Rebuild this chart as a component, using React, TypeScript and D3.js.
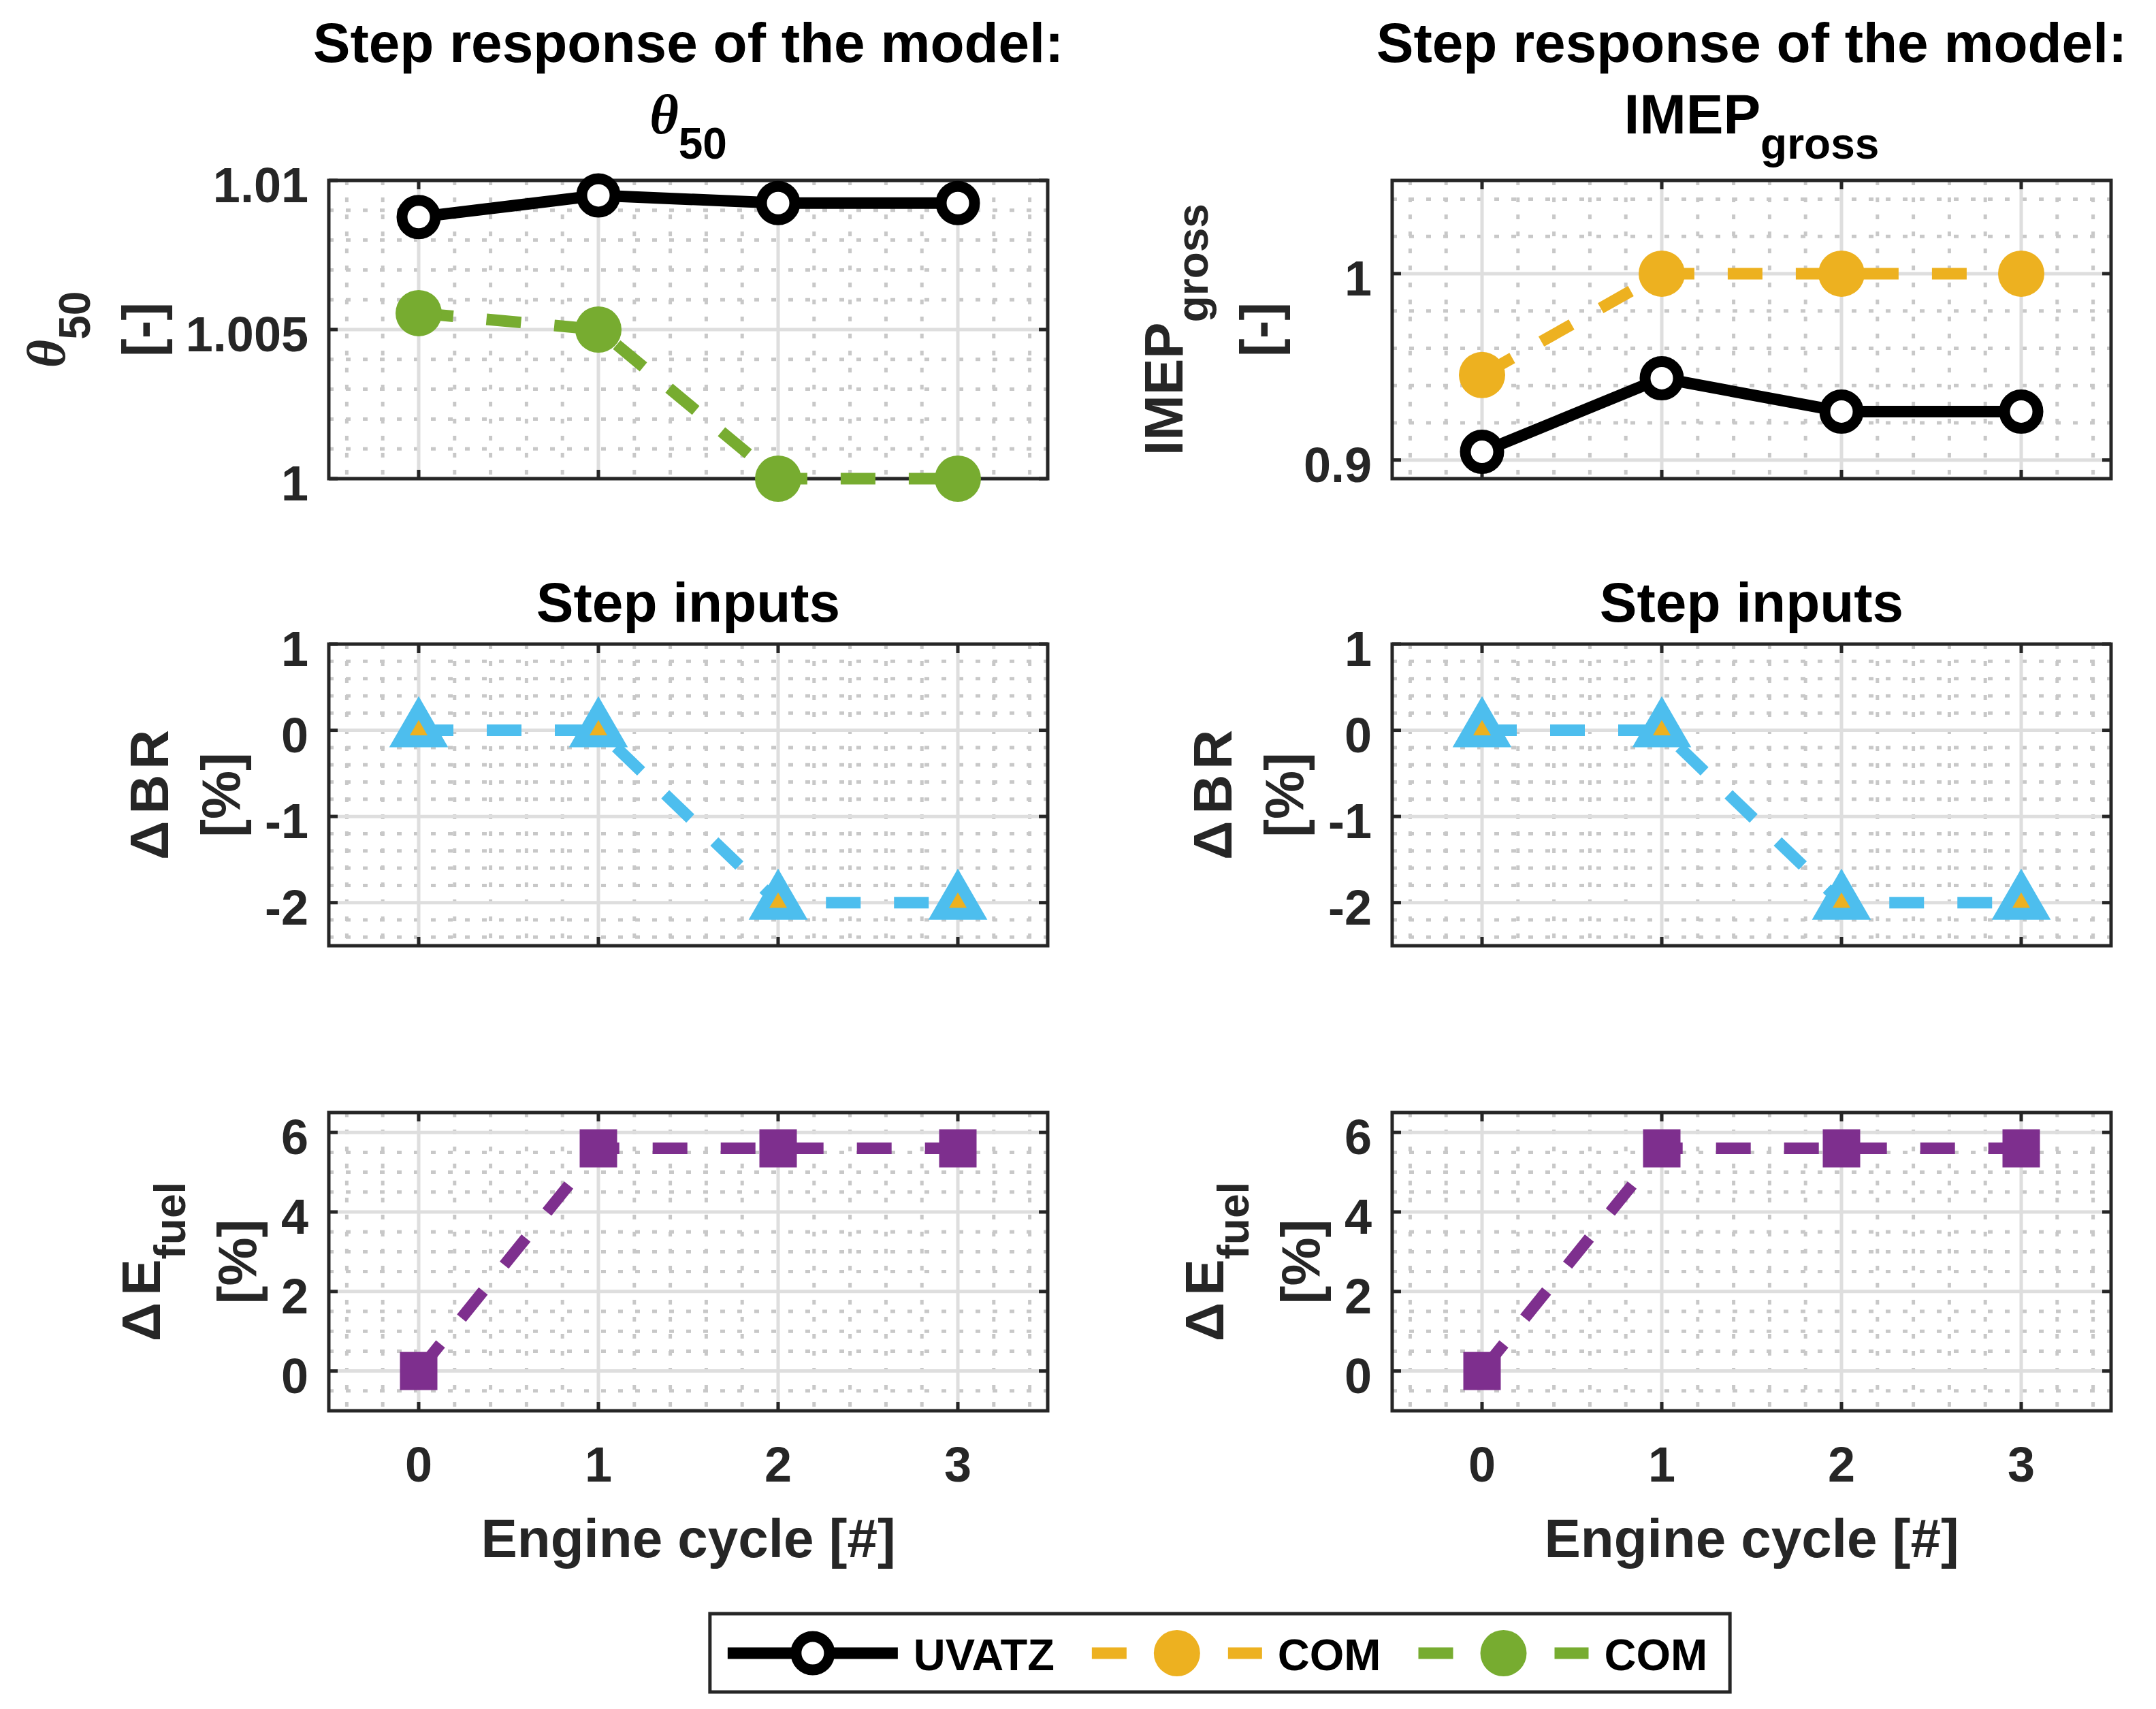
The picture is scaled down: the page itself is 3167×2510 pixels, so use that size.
import { useEffect, useRef } from 'react'
import * as d3 from 'd3'

// ---- data ----
const cycles = [0, 1, 2, 3]
const theta50Uvatz = [1.00877, 1.0095, 1.00924, 1.00924]
const theta50Com = [1.00555, 1.005, 1.0, 1.0]
const imepUvatz = [0.9044, 0.9439, 0.926, 0.926]
const imepCom = [0.9456, 1.0, 1.0, 1.0]
const deltaBR = [0, 0, -2, -2]
const deltaEfuel = [0, 5.6, 5.6, 5.6]

const xDomain: [number, number] = [-0.5, 3.5]
const xTicks = [0, 1, 2, 3]
const legendLabels = ['UVATZ', 'COM', 'COM']

// ---- figure layout ----
const W = 3167
const H = 2510
const FONT = '"Liberation Sans", Arial, Helvetica, sans-serif'
const SERIF = '"Liberation Serif", "Times New Roman", serif'
const AX = '#262626'
const MAJOR_GRID = '#dedede'
const MINOR_GRID = '#c8c8c8'
const LW = 17
const DASH = '51 49'

const colLeft = [483, 2045]
const axW = 1056
const rowTop = [265, 946, 1634]
const rowH = [438, 443, 438]

const C_BLACK = '#000000'
const C_ORANGE = '#EDB120'
const C_GREEN = '#77AC30'
const C_BLUE = '#4DBEEE'
const C_PURPLE = '#7E2F8E'

type Marker = 'openCircle' | 'circle' | 'triangle' | 'square'
interface Series { values: number[]; color: string; dashed: boolean; marker: Marker }
interface Seg { t: string; sub?: boolean; serif?: boolean; dx?: number }
interface Panel {
  col: number
  row: number
  domain: [number, number]
  ticks: number[]
  tickLabels: string[]
  minorStep: number
  series: Series[]
  title: Seg[][]
  ylabel: Seg[][]
  xlabel?: boolean
}

const panels: Panel[] = [
  {
    col: 0, row: 0, domain: [1, 1.01], ticks: [1, 1.005, 1.01], tickLabels: ['1', '1.005', '1.01'], minorStep: 0.001,
    series: [
      { values: theta50Uvatz, color: C_BLACK, dashed: false, marker: 'openCircle' },
      { values: theta50Com, color: C_GREEN, dashed: true, marker: 'circle' },
    ],
    title: [[{ t: 'Step response of the model:' }], [{ t: 'θ', serif: true }, { t: '50', sub: true }]],
    ylabel: [[{ t: 'θ', serif: true }, { t: '50', sub: true }], [{ t: '[-]' }]],
  },
  {
    col: 1, row: 0, domain: [0.89, 1.05], ticks: [0.9, 1], tickLabels: ['0.9', '1'], minorStep: 0.02,
    series: [
      { values: imepUvatz, color: C_BLACK, dashed: false, marker: 'openCircle' },
      { values: imepCom, color: C_ORANGE, dashed: true, marker: 'circle' },
    ],
    title: [[{ t: 'Step response of the model:' }], [{ t: 'IMEP' }, { t: 'gross', sub: true }]],
    ylabel: [[{ t: 'IMEP' }, { t: 'gross', sub: true }], [{ t: '[-]' }]],
  },
  ...[0, 1].map(col => ({
    col, row: 1, domain: [-2.5, 1] as [number, number], ticks: [-2, -1, 0, 1], tickLabels: ['-2', '-1', '0', '1'], minorStep: 0.2,
    series: [{ values: deltaBR, color: C_BLUE, dashed: true, marker: 'triangle' as Marker }],
    title: [[{ t: 'Step inputs' }]],
    ylabel: [[{ t: 'Δ' }, { t: 'B', dx: 10 }, { t: 'R', dx: 8 }], [{ t: '[%]' }]],
  })),
  ...[0, 1].map(col => ({
    col, row: 2, domain: [-1, 6.5] as [number, number], ticks: [0, 2, 4, 6], tickLabels: ['0', '2', '4', '6'], minorStep: 0.5,
    series: [{ values: deltaEfuel, color: C_PURPLE, dashed: true, marker: 'square' as Marker }],
    title: [],
    ylabel: [[{ t: 'Δ' }, { t: 'E', dx: 10 }, { t: 'fuel', sub: true }], [{ t: '[%]' }]],
    xlabel: true,
  })),
]

const SUB_DY = 37

function minorTicks(domain: [number, number], step: number, major: number[]) {
  const out: number[] = []
  const k0 = Math.ceil(domain[0] / step - 1e-6)
  const k1 = Math.floor(domain[1] / step + 1e-6)
  for (let k = k0; k <= k1; k++) {
    const v = k * step
    if (major.some(m => Math.abs(m - v) < step / 10)) continue
    if (Math.abs(v - domain[0]) < step / 10 || Math.abs(v - domain[1]) < step / 10) continue
    out.push(v)
  }
  return out
}

function appendRich(text: d3.Selection<SVGTextElement, unknown, null, undefined>, segs: Seg[], subSize: number) {
  segs.forEach(s => {
    const ts = text.append('tspan').text(s.t)
    if (s.serif) ts.attr('font-family', SERIF).attr('font-style', 'italic')
    if (s.sub) ts.attr('font-size', subSize).attr('dy', SUB_DY)
    if (s.dx) ts.attr('dx', s.dx)
  })
}

function drawMarker(g: d3.Selection<SVGGElement, unknown, null, undefined>, kind: Marker, cx: number, cy: number, color: string) {
  if (kind === 'openCircle') {
    g.append('circle').attr('cx', cx).attr('cy', cy).attr('r', 24.5)
      .attr('fill', '#fff').attr('stroke', color).attr('stroke-width', 16)
  } else if (kind === 'circle') {
    g.append('circle').attr('cx', cx).attr('cy', cy).attr('r', 34).attr('fill', color)
  } else if (kind === 'square') {
    g.append('rect').attr('x', cx - 27.5).attr('y', cy - 28).attr('width', 55).attr('height', 56).attr('fill', color)
  } else {
    const tri = (r: number) => {
      const hw = r * Math.sqrt(3) / 2
      return `M${cx},${cy - r}L${cx + hw},${cy + r / 2}L${cx - hw},${cy + r / 2}Z`
    }
    g.append('path').attr('d', tri(50)).attr('fill', C_BLUE)
    g.append('path').attr('d', tri(15)).attr('fill', C_ORANGE)
  }
}

type SvgSel = d3.Selection<SVGSVGElement, unknown, null, undefined>

function drawPanel(svg: SvgSel, p: Panel) {
  const x0 = colLeft[p.col]
  const y0 = rowTop[p.row]
  const h = rowH[p.row]
  const x = d3.scaleLinear().domain(xDomain).range([x0, x0 + axW])
  const y = d3.scaleLinear().domain(p.domain).range([y0 + h, y0])
  const g = svg.append('g')

  // minor grid (dotted)
  const xMinor = minorTicks(xDomain, 0.2, xTicks)
  const yMinor = minorTicks(p.domain, p.minorStep, p.ticks)
  g.selectAll('.xminor').data(xMinor).enter().append('line')
    .attr('x1', d => x(d)).attr('x2', d => x(d))
    .attr('y1', y0).attr('y2', y0 + h)
    .attr('stroke', MINOR_GRID).attr('stroke-width', 5).attr('stroke-dasharray', '7 18')
  g.selectAll('.yminor').data(yMinor).enter().append('line')
    .attr('x1', x0).attr('x2', x0 + axW)
    .attr('y1', d => y(d)).attr('y2', d => y(d))
    .attr('stroke', MINOR_GRID).attr('stroke-width', 5).attr('stroke-dasharray', '7 18')

  // major grid
  g.selectAll('.xgrid').data(xTicks).enter().append('line')
    .attr('x1', d => x(d)).attr('x2', d => x(d))
    .attr('y1', y0).attr('y2', y0 + h)
    .attr('stroke', MAJOR_GRID).attr('stroke-width', 5)
  g.selectAll('.ygrid').data(p.ticks).enter().append('line')
    .attr('x1', x0).attr('x2', x0 + axW)
    .attr('y1', d => y(d)).attr('y2', d => y(d))
    .attr('stroke', MAJOR_GRID).attr('stroke-width', 5)

  // box and inward ticks on all four sides
  g.append('rect').attr('x', x0).attr('y', y0).attr('width', axW).attr('height', h)
    .attr('fill', 'none').attr('stroke', AX).attr('stroke-width', 5)
  const tl = 13
  xTicks.forEach(t => {
    g.append('line').attr('x1', x(t)).attr('x2', x(t)).attr('y1', y0 + h).attr('y2', y0 + h - tl)
      .attr('stroke', AX).attr('stroke-width', 5)
    g.append('line').attr('x1', x(t)).attr('x2', x(t)).attr('y1', y0).attr('y2', y0 + tl)
      .attr('stroke', AX).attr('stroke-width', 5)
  })
  p.ticks.forEach(t => {
    g.append('line').attr('x1', x0).attr('x2', x0 + tl).attr('y1', y(t)).attr('y2', y(t))
      .attr('stroke', AX).attr('stroke-width', 5)
    g.append('line').attr('x1', x0 + axW).attr('x2', x0 + axW - tl).attr('y1', y(t)).attr('y2', y(t))
      .attr('stroke', AX).attr('stroke-width', 5)
  })

  // tick labels
  const yLab = g.append('g')
  yLab.selectAll('text').data(p.ticks).enter().append('text')
    .attr('x', x0 - 30).attr('y', d => y(d) + 32)
    .attr('text-anchor', 'end')
    .style('font-family', FONT).style('font-weight', 'bold').style('font-size', '72px')
    .attr('fill', AX)
    .text((d, i) => p.tickLabels[i])

  if (p.xlabel) {
    g.selectAll('.xlab').data(xTicks).enter().append('text')
      .attr('x', d => x(d)).attr('y', y0 + h + 104)
      .attr('text-anchor', 'middle')
      .style('font-family', FONT).style('font-weight', 'bold').style('font-size', '72px')
      .attr('fill', AX)
      .text(d => String(d))
    g.append('text')
      .attr('x', x0 + axW / 2).attr('y', y0 + h + 215)
      .attr('text-anchor', 'middle')
      .style('font-family', FONT).style('font-weight', 'bold').style('font-size', '80px')
      .attr('fill', AX)
      .text('Engine cycle [#]')
  }

  // title
  const nT = p.title.length
  p.title.forEach((line, i) => {
    const last = i === nT - 1
    const hasSub = p.title[nT - 1].some(s => s.sub)
    const baseLast = hasSub ? y0 - 69 : y0 - 33
    const t = g.append('text')
      .attr('x', x0 + axW / 2).attr('y', last ? baseLast : baseLast - 105 * (nT - 1 - i))
      .attr('text-anchor', 'middle')
      .style('font-family', FONT).style('font-weight', 'bold').style('font-size', '82px')
      .attr('fill', '#000')
    appendRich(t, line, 64)
  })

  // y label (two rotated lines), placed left of the tick labels
  let minX = x0 - 200
  try {
    const bb = (yLab.node() as SVGGElement).getBBox()
    minX = bb.x
  } catch (e) { /* keep fallback */ }
  const cy = y0 + h / 2
  const nL = p.ylabel.length
  let base = minX - 37
  for (let i = nL - 1; i >= 0; i--) {
    const t = g.append('text')
      .attr('transform', `translate(${base},${cy}) rotate(-90)`)
      .attr('text-anchor', 'middle')
      .style('font-family', FONT).style('font-weight', 'bold').style('font-size', '80px')
      .attr('fill', AX)
    appendRich(t, p.ylabel[i], 64)
    if (i > 0) base -= p.ylabel[i - 1].some(s => s.sub) ? 141 : 105
  }

  // data lines and markers (drawn over the box, no clipping)
  const line = d3.line<number>().x((d, i) => x(cycles[i])).y(d => y(d))
  p.series.forEach(s => {
    g.append('path').datum(s.values).attr('d', line)
      .attr('fill', 'none').attr('stroke', s.color).attr('stroke-width', LW)
      .attr('stroke-linejoin', 'round')
      .attr('stroke-dasharray', s.dashed ? DASH : null)
  })
  p.series.forEach(s => {
    const mg = g.append('g')
    s.values.forEach((v, i) => drawMarker(mg, s.marker, x(cycles[i]), y(v), s.color))
  })
}

function drawLegend(svg: SvgSel) {
  const items: { label: string; color: string; dashed: boolean; marker: Marker }[] = [
    { label: legendLabels[0], color: C_BLACK, dashed: false, marker: 'openCircle' },
    { label: legendLabels[1], color: C_ORANGE, dashed: true, marker: 'circle' },
    { label: legendLabels[2], color: C_GREEN, dashed: true, marker: 'circle' },
  ]
  const cy = 2428
  const lineLen = 250
  const padL = 26
  const padR = 33
  const gapText = 23
  const gapItem = 55
  const g = svg.append('g')
  const box = g.append('rect')
  const content = g.append('g')
  let cx = padL
  items.forEach((it, i) => {
    content.append('line').attr('x1', cx).attr('x2', cx + lineLen).attr('y1', cy).attr('y2', cy)
      .attr('stroke', it.color).attr('stroke-width', LW)
      .attr('stroke-dasharray', it.dashed ? DASH : null)
    drawMarker(content as any, it.marker, cx + lineLen / 2, cy, it.color)
    const t = content.append('text')
      .attr('x', cx + lineLen + gapText).attr('y', cy + 25)
      .style('font-family', FONT).style('font-weight', 'bold').style('font-size', '65px')
      .attr('fill', '#000').text(it.label)
    let tw = it.label.length * 45
    try { tw = (t.node() as SVGTextElement).getComputedTextLength() } catch (e) { /* fallback */ }
    cx += lineLen + gapText + tw + (i < items.length - 1 ? gapItem : 0)
  })
  const total = cx + padR
  const left = (colLeft[0] + colLeft[1] + axW) / 2 - total / 2
  content.attr('transform', `translate(${left},0)`)
  box.attr('x', left).attr('y', 2370).attr('width', total).attr('height', 115)
    .attr('fill', '#fff').attr('stroke', AX).attr('stroke-width', 5)
}

export default function App() {
  const svgRef = useRef<SVGSVGElement>(null)

  useEffect(() => {
    if (!svgRef.current) return
    document.body.style.margin = '0'
    const svg = d3.select(svgRef.current)
    svg.selectAll('*').remove()
    svg.append('rect').attr('width', W).attr('height', H).attr('fill', '#fff')
    panels.forEach(p => drawPanel(svg, p))
    drawLegend(svg)
  }, [])

  return (
    <svg
      ref={svgRef}
      width={W}
      height={H}
      style={{ position: 'absolute', left: 0, top: 0, display: 'block' }}
    />
  )
}
